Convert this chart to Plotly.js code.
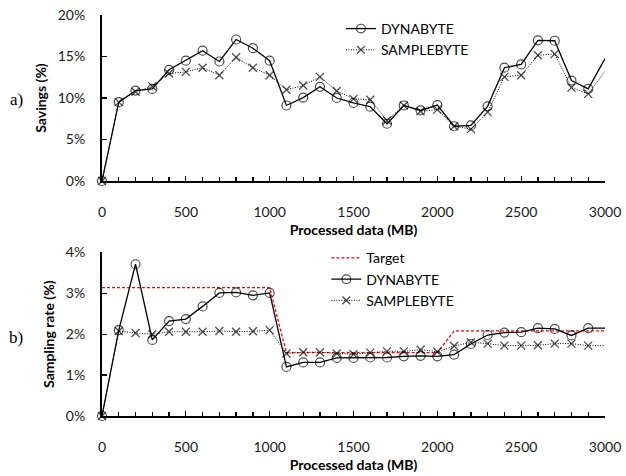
<!DOCTYPE html>
<html>
<head>
<meta charset="utf-8">
<script src="https://cdn.plot.ly/plotly-3.0.1.min.js"></script>
<style>html,body{margin:0;padding:0;background:#fff;}#chart{width:626px;height:476px;}</style>
</head>
<body>
<div id="chart"></div>
<script>
// Processed data (MB)
const processed = [0,100,200,300,400,500,600,700,800,900,1000,1100,1200,1300,1400,1500,1600,1700,1800,1900,2000,2100,2200,2300,2400,2500,2600,2700,2800,2900,3000];

// a) Savings (%)
const savingsDynabyte = [0,9.5,10.9,11.1,13.4,14.5,15.7,14.4,17.05,16.0,14.5,9.1,10.05,11.35,10.0,9.4,8.95,6.9,9.1,8.5,9.15,6.6,6.7,9.0,13.65,14.05,16.95,16.9,12.1,11.1,14.75];
const savingsSamplebyte = [0,9.5,10.75,11.4,12.95,13.15,13.65,12.75,14.9,13.65,12.75,11.0,11.5,12.55,10.85,9.9,9.8,7.3,9.1,8.4,8.6,6.6,6.25,8.3,12.55,12.75,15.15,15.3,11.25,10.5,13.25];

// b) Sampling rate (%)
const rateTarget = [3.14,3.14,3.14,3.14,3.14,3.14,3.14,3.14,3.14,3.14,3.14,1.55,1.55,1.55,1.55,1.55,1.55,1.55,1.55,1.55,1.55,2.08,2.08,2.08,2.08,2.08,2.08,2.08,2.08,2.08,2.08];
const rateDynabyte = [0,2.1,3.71,1.86,2.32,2.37,2.68,3.01,3.02,2.95,3.01,1.2,1.31,1.31,1.42,1.42,1.43,1.43,1.46,1.47,1.46,1.5,1.76,1.98,2.04,2.05,2.15,2.13,1.97,2.15,2.15];
const rateSamplebyte = [0,2.08,2.03,2.0,2.06,2.06,2.06,2.08,2.06,2.07,2.1,1.53,1.56,1.56,1.53,1.51,1.55,1.58,1.58,1.62,1.57,1.71,1.8,1.77,1.72,1.72,1.73,1.77,1.77,1.72,1.72];

const panelLabels = ['a)', 'b)'];
const yTitles = ['Savings (%)', 'Sampling rate (%)'];
const xTitle = 'Processed data (MB)';

const FONT = 'Lato, "Open Sans", sans-serif';
// marker sizes: no marker at the last point (3000)
const sizes = (s) => processed.map((_, i) => i === processed.length - 1 ? 0 : s);

const traces = [
  {x: processed, y: savingsDynabyte, name: 'DYNABYTE', xaxis: 'x', yaxis: 'y', legend: 'legend',
   mode: 'lines+markers', cliponaxis: false,
   line: {color: '#000', width: 1.3},
   marker: {symbol: 'circle-open', size: sizes(9), color: '#000', line: {width: 1.2, color: '#000'}}},
  {x: processed, y: savingsSamplebyte, name: 'SAMPLEBYTE', xaxis: 'x', yaxis: 'y', legend: 'legend',
   mode: 'lines+markers', cliponaxis: false,
   line: {color: '#000', width: 1, dash: '1px,1.5px'},
   marker: {symbol: 'x-thin-open', size: sizes(8), color: '#000', line: {width: 1.3, color: '#000'}}},
  {x: processed, y: rateTarget, name: 'Target', xaxis: 'x2', yaxis: 'y2', legend: 'legend2',
   mode: 'lines', cliponaxis: false,
   line: {color: '#ff0000', width: 1.3, dash: '3px,2px'}},
  {x: processed, y: rateDynabyte, name: 'DYNABYTE', xaxis: 'x2', yaxis: 'y2', legend: 'legend2',
   mode: 'lines+markers', cliponaxis: false,
   line: {color: '#000', width: 1.3},
   marker: {symbol: 'circle-open', size: sizes(9), color: '#000', line: {width: 1.2, color: '#000'}}},
  {x: processed, y: rateSamplebyte, name: 'SAMPLEBYTE', xaxis: 'x2', yaxis: 'y2', legend: 'legend2',
   mode: 'lines+markers', cliponaxis: false,
   line: {color: '#000', width: 1, dash: '1px,1.5px'},
   marker: {symbol: 'x-thin-open', size: sizes(8), color: '#000', line: {width: 1.3, color: '#000'}}}
];

const xaxisBase = {
  range: [0, 3000], dtick: 500, tick0: 0, showgrid: false, zeroline: false,
  showline: true, linewidth: 2, linecolor: '#000',
  ticks: 'inside', ticklen: 5, tickwidth: 1.3, tickcolor: '#000',
  minor: {dtick: 100, ticks: 'inside', ticklen: 4, tickwidth: 1.3, tickcolor: '#000'},
  ticklabelstandoff: 17,
  tickfont: {family: FONT, size: 14, color: '#1a1a1a'},
  title: {text: '<b>' + xTitle + '</b>', font: {family: FONT, size: 14, color: '#000'}, standoff: 6}
};
const yaxisBase = {
  showgrid: false, zeroline: false, showline: true, linewidth: 2, linecolor: '#000',
  ticks: 'inside', ticklen: 5, tickwidth: 1.3, tickcolor: '#000', ticksuffix: '%',
  ticklabelstandoff: 12,
  tickfont: {family: FONT, size: 14, color: '#1a1a1a'}
};

const layout = {
  width: 626, height: 476,
  margin: {l: 102, r: 21, t: 15, b: 60},
  paper_bgcolor: '#fff', plot_bgcolor: '#fff',
  font: {family: FONT, size: 14, color: '#000'},
  xaxis: Object.assign({}, xaxisBase, {anchor: 'y', domain: [0, 1]}),
  xaxis2: Object.assign({}, xaxisBase, {anchor: 'y2', domain: [0, 1]}),
  yaxis: Object.assign({}, yaxisBase, {domain: [0.586, 1], range: [0, 20], dtick: 5,
    title: {text: '<b>' + yTitles[0] + '</b>', font: {family: FONT, size: 14, color: '#000'}, standoff: 8}}),
  yaxis2: Object.assign({}, yaxisBase, {domain: [0, 0.408], range: [0, 4], dtick: 1,
    title: {text: '<b>' + yTitles[1] + '</b>', font: {family: FONT, size: 14, color: '#000'}, standoff: 8}}),
  showlegend: true,
  legend: {x: 0.475, y: 1.005, xanchor: 'left', yanchor: 'top', bgcolor: 'rgba(0,0,0,0)',
    font: {family: FONT, size: 14, color: '#000'}, tracegroupgap: 0},
  legend2: {x: 0.446, y: 0.433, xanchor: 'left', yanchor: 'top', bgcolor: 'rgba(0,0,0,0)',
    font: {family: FONT, size: 14, color: '#000'}, tracegroupgap: 0},
  annotations: [
    {text: panelLabels[0], xref: 'paper', yref: 'paper', x: -0.17, y: 0.79, xanchor: 'center', yanchor: 'middle',
     showarrow: false, font: {family: '"Liberation Serif", "DejaVu Serif", serif', size: 17, color: '#000'}},
    {text: panelLabels[1], xref: 'paper', yref: 'paper', x: -0.17, y: 0.195, xanchor: 'center', yanchor: 'middle',
     showarrow: false, font: {family: '"Liberation Serif", "DejaVu Serif", serif', size: 17, color: '#000'}}
  ]
};

Plotly.newPlot('chart', traces, layout, {staticPlot: true, displayModeBar: false});
</script>
</body>
</html>
